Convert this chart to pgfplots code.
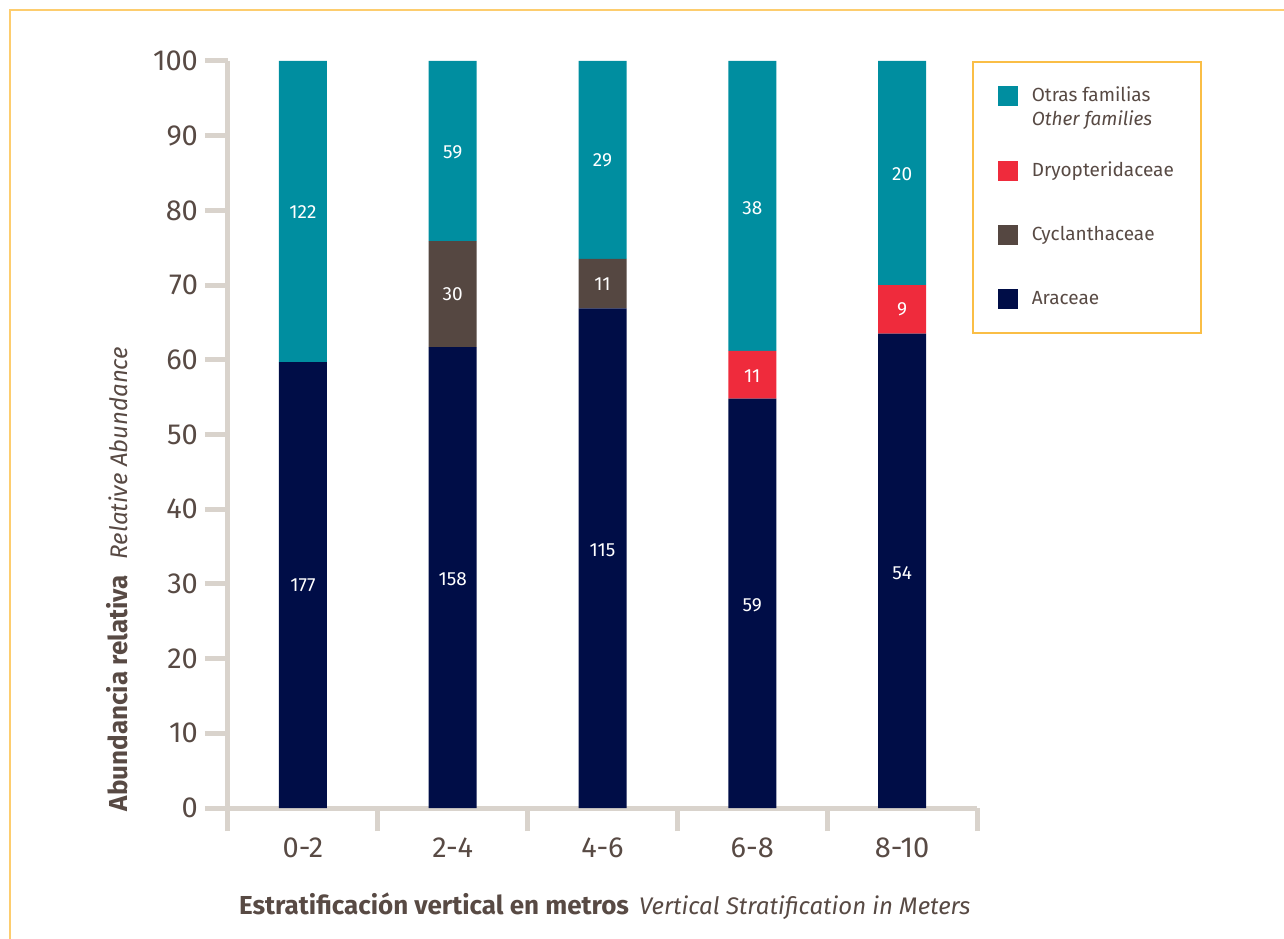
\documentclass[border=0pt]{standalone}
\usepackage{pgfplots}
\pgfplotsset{compat=1.18}
\usepackage{fontspec}
\setmainfont{Fira Sans}
\definecolor{teal1}{RGB}{0,142,160}
\definecolor{navy1}{RGB}{0,13,71}
\definecolor{brown1}{RGB}{85,71,65}
\definecolor{red1}{RGB}{239,43,60}
\definecolor{axisgrey}{RGB}{217,211,204}
\definecolor{textbrown}{RGB}{88,74,68}
\definecolor{legorange}{RGB}{250,190,70}
\definecolor{frameorange}{RGB}{253,205,110}
\pgfplotsset{sqleg/.style={legend image code/.code={\fill[##1] (0pt,-5pt) rectangle (10pt,5pt);}},
  sqlegtall/.style={legend image code/.code={\fill[##1] (0pt,-5pt) rectangle (10pt,5pt); \path (0pt,-10.5pt);}}}
\newcommand{\lent}[1]{\raisebox{0pt}[7pt][2.5pt]{#1}}
\newcommand{\bl}[1]{{\fontsize{13}{15}\selectfont\bfseries #1}}
\newcommand{\il}[1]{{\fontsize{12}{14}\selectfont\itshape #1}}
\begin{document}
\begin{tikzpicture}
\useasboundingbox (-114pt,-65pt) rectangle (528pt,404pt);
\draw[frameorange, line width=0.7pt] (-109pt,-66pt) -- (-109pt,399pt) -- (529pt,399pt);
\begin{axis}[
  scale only axis, width=374.5pt, height=373.5pt,
  xmin=-0.5, xmax=4.5, ymin=0, ymax=100,
  ybar stacked, bar width=24pt,
  axis x line=bottom, axis y line=left,
  axis line style={draw=axisgrey, line width=2.5pt, -},
  tick style={draw=axisgrey, line width=2.5pt},
  major tick length=11.5pt, tick align=outside,
  xtick={-0.5,0.5,1.5,2.5,3.5,4.5},
  xticklabels={0-2,2-4,4-6,6-8,8-10,{}},
  xticklabel style={xshift=37.45pt},
  ytick={0,10,...,100},
  tick label style={font=\fontsize{14.5}{16}\selectfont, text=textbrown},
  /pgf/number format/assume math mode=true,
  xlabel={\bl{Estratificación vertical en metros}\hspace{0.5em}\il{Vertical Stratification in Meters}},
  ylabel={\bl{Abundancia relativa}\hspace{0.8em}\il{Relative Abundance}},
  xlabel style={at={(axis description cs:0.503,-0.131)}, anchor=center, text=textbrown},
  ylabel style={at={(axis description cs:-0.148,0.3066)}, anchor=center, text=textbrown},
  legend style={at={(0.9933,1)}, anchor=north west, draw=legorange, line width=0.8pt,
    inner xsep=12.5pt, inner ysep=12pt, row sep=21.5pt, column sep=6pt,
    font=\fontsize{9.5}{12}\selectfont, text=textbrown, nodes={inner sep=1pt, text=textbrown}},
  legend cell align=left,
  reverse legend,
]
\addplot[fill=navy1, draw=none, sqleg] coordinates {(0,59.7) (1,61.7) (2,66.9) (3,54.8) (4,63.5)};
\addlegendentry{\lent{Araceae}}
\addplot[fill=brown1, draw=none, sqleg] coordinates {(0,0) (1,14.2) (2,6.6) (3,0) (4,0)};
\addlegendentry{\lent{Cyclanthaceae}}
\addplot[fill=red1, draw=none, sqleg] coordinates {(0,0) (1,0) (2,0) (3,6.4) (4,6.5)};
\addlegendentry{\lent{Dryopteridaceae}}
\addplot[fill=teal1, draw=none, sqlegtall] coordinates {(0,40.3) (1,24.1) (2,26.5) (3,38.8) (4,30.0)};
\addlegendentry{\raisebox{0pt}[7pt][2.5pt]{\begin{tabular}[t]{@{}l@{}}Otras familias\\\textit{Other families}\end{tabular}}}
\end{axis}
\begin{axis}[
  scale only axis, width=374.5pt, height=373.5pt,
  xmin=-0.5, xmax=4.5, ymin=0, ymax=100,
  hide axis, clip=false,
]
\addplot[draw=none, nodes near coords, point meta=explicit symbolic,
  nodes near coords align=center,
  every node near coord/.style={font=\fontsize{9.5}{11}\selectfont, text=white, anchor=center}]
  coordinates {
  (0,29.8)[177] (0,79.8)[122]
  (1,30.7)[158] (1,68.8)[30] (1,87.8)[59]
  (2,34.5)[115] (2,70.1)[11] (2,86.7)[29]
  (3,27.2)[59] (3,57.8)[11] (3,80.3)[38]
  (4,31.5)[54] (4,66.7)[9] (4,84.9)[20]
  };
\end{axis}
\end{tikzpicture}
\end{document}
